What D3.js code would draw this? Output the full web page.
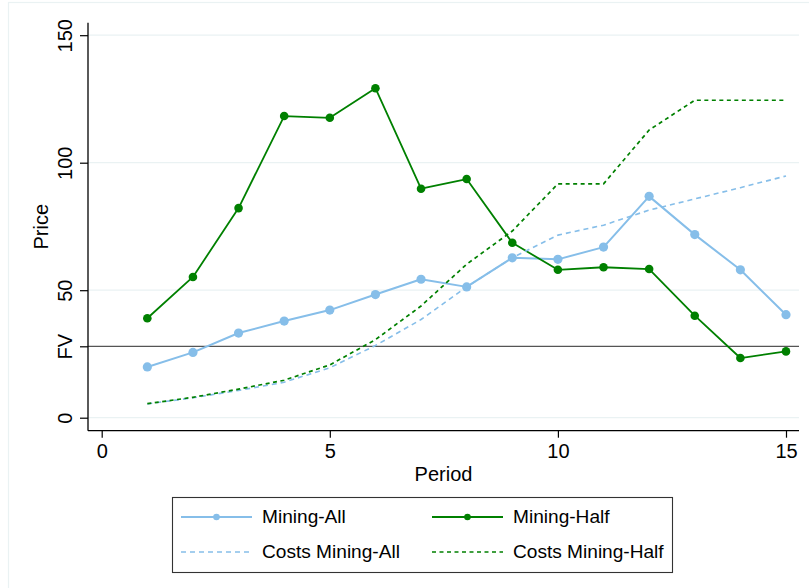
<!DOCTYPE html>
<html>
<head>
<meta charset="utf-8">
<script src="https://cdn.jsdelivr.net/npm/d3@7"></script>
<style>
  html, body { margin: 0; padding: 0; background: #ffffff; }
  svg { display: block; font-family: "Liberation Sans", Arial, sans-serif; }
</style>
</head>
<body>
<svg id="chart" width="809" height="588"></svg>
<script>
// ---- Data ----
const periods = [1, 2, 3, 4, 5, 6, 7, 8, 9, 10, 11, 12, 13, 14, 15];
const miningAll  = [19.9, 25.6, 33.2, 37.9, 42.2, 48.3, 54.3, 51.3, 62.7, 62.1, 66.9, 86.8, 71.8, 58.0, 40.4];
const miningHalf = [39.0, 55.2, 82.2, 118.3, 117.6, 129.2, 89.8, 93.6, 68.6, 58.0, 59.0, 58.3, 40.0, 23.4, 26.0];
const costsAll   = [5.4, 7.8, 10.7, 13.9, 19.6, 28.3, 38.5, 51.3, 62.7, 71.6, 75.5, 81.4, 85.8, 90.2, 94.8];
const costsHalf  = [5.5, 8.0, 11.2, 14.7, 20.7, 30.6, 43.8, 60.2, 73.2, 91.7, 91.7, 112.8, 124.5, 124.5, 124.5];
const fvValue = 28;
const xTicks = [0, 5, 10, 15];
const yTicks = [0, 50, 100, 150];
const yTickLabels = ["0", "50", "100", "150"];
const seriesNames = ["Mining-All", "Mining-Half", "Costs Mining-All", "Costs Mining-Half"];

// ---- Layout ----
const svg = d3.select("#chart");
const FONT = 20;
const LEGEND_FONT = 19.1;
const plot = { left: 88, right: 799, top: 22.7, bottom: 430.7 };
const x = d3.scaleLinear().domain([0, 15]).range([101.7, 786]);
const y = d3.scaleLinear().domain([0, 150]).range([417.7, 35.2]);

const cBlue = "#86bee9";
const cGreen = "#008000";
const cGrid = "#eaf2f3";

// outer frame
svg.append("rect").attr("x", 8.5).attr("y", 2.5).attr("width", 820).attr("height", 620)
  .attr("fill", "none").attr("stroke", cGrid).attr("stroke-width", 1.2);

// gridlines
svg.append("g").selectAll("line").data(yTicks).join("line")
  .attr("x1", plot.left).attr("x2", plot.right)
  .attr("y1", d => y(d)).attr("y2", d => y(d))
  .attr("stroke", cGrid).attr("stroke-width", 1.3);

// FV line
svg.append("line").attr("x1", plot.left).attr("x2", plot.right)
  .attr("y1", y(fvValue)).attr("y2", y(fvValue))
  .attr("stroke", "#555555").attr("stroke-width", 1.3);

// Axes
const yAxis = d3.axisLeft(y).tickValues(yTicks.concat([fvValue]))
  .tickFormat(d => d === fvValue ? "FV" : yTickLabels[yTicks.indexOf(d)])
  .tickSize(8).tickPadding(0);
const gy = svg.append("g").attr("transform", `translate(${plot.left},0)`).call(yAxis);
gy.select(".domain").attr("d", `M0,${plot.top}V${plot.bottom}`).attr("stroke", "#000").attr("stroke-width", 1.3);
gy.selectAll(".tick line").attr("stroke", "#000").attr("stroke-width", 1.2);
gy.selectAll(".tick text")
  .attr("font-size", FONT).attr("fill", "#000")
  .attr("text-anchor", "middle")
  .attr("x", null).attr("dy", null)
  .attr("transform", "translate(-16.5,0) rotate(-90)")
  .attr("y", 0);

const xAxis = d3.axisBottom(x).tickValues(xTicks).tickFormat(d3.format("d")).tickSize(7).tickPadding(0);
const gx = svg.append("g").attr("transform", `translate(0,${plot.bottom})`).call(xAxis);
gx.select(".domain").attr("d", `M${plot.left},0H${plot.right}`).attr("stroke", "#000").attr("stroke-width", 1.3);
gx.selectAll(".tick line").attr("stroke", "#000").attr("stroke-width", 1.2);
gx.selectAll(".tick text").attr("font-size", FONT).attr("fill", "#000").attr("dy", null).attr("y", 27.6);

// Axis titles
svg.append("text").attr("transform", `translate(48,${(plot.top + plot.bottom) / 2}) rotate(-90)`)
  .attr("text-anchor", "middle").attr("font-size", FONT).text("Price");
svg.append("text").attr("x", (plot.left + plot.right) / 2).attr("y", 480.5)
  .attr("text-anchor", "middle").attr("font-size", FONT).text("Period");

// Lines
const line = d3.line().x(d => x(d[0])).y(d => y(d[1]));
const zipData = arr => periods.map((p, i) => [p, arr[i]]);

function drawLine(arr, color, dash, width) {
  svg.append("path").datum(zipData(arr)).attr("d", line)
    .attr("fill", "none").attr("stroke", color).attr("stroke-width", width)
    .attr("stroke-dasharray", dash).attr("stroke-linejoin", "round");
}
function drawPoints(arr, color, r) {
  svg.append("g").selectAll("circle").data(zipData(arr)).join("circle")
    .attr("cx", d => x(d[0])).attr("cy", d => y(d[1])).attr("r", r).attr("fill", color);
}

drawLine(miningAll, cBlue, null, 2);
drawPoints(miningAll, cBlue, 4.6);
drawLine(miningHalf, cGreen, null, 1.8);
drawPoints(miningHalf, cGreen, 4.3);
drawLine(costsAll, cBlue, "5,4", 1.6);
drawLine(costsHalf, cGreen, "4,3.5", 1.7);

// Legend
const lg = svg.append("g");
lg.append("rect").attr("x", 172.5).attr("y", 497.5).attr("width", 500).attr("height", 75)
  .attr("fill", "#fff").attr("stroke", "#333").attr("stroke-width", 1.1);
const legendItems = [
  { name: seriesNames[0], color: cBlue, dash: null, marker: true, x0: 181, ty: 517 },
  { name: seriesNames[1], color: cGreen, dash: null, marker: true, x0: 432, ty: 517 },
  { name: seriesNames[2], color: cBlue, dash: "5,4", marker: false, x0: 181, ty: 552 },
  { name: seriesNames[3], color: cGreen, dash: "4,3.5", marker: false, x0: 432, ty: 552 }
];
legendItems.forEach(it => {
  lg.append("line").attr("x1", it.x0).attr("x2", it.x0 + 71).attr("y1", it.ty).attr("y2", it.ty)
    .attr("stroke", it.color).attr("stroke-width", it.dash ? 1.4 : 1.8).attr("stroke-dasharray", it.dash);
  if (it.marker) {
    lg.append("circle").attr("cx", it.x0 + 35.5).attr("cy", it.ty).attr("r", 3.3).attr("fill", it.color);
  }
  lg.append("text").attr("x", it.x0 + 81).attr("y", it.ty + 5.5).attr("font-size", LEGEND_FONT).text(it.name);
});
</script>
</body>
</html>
